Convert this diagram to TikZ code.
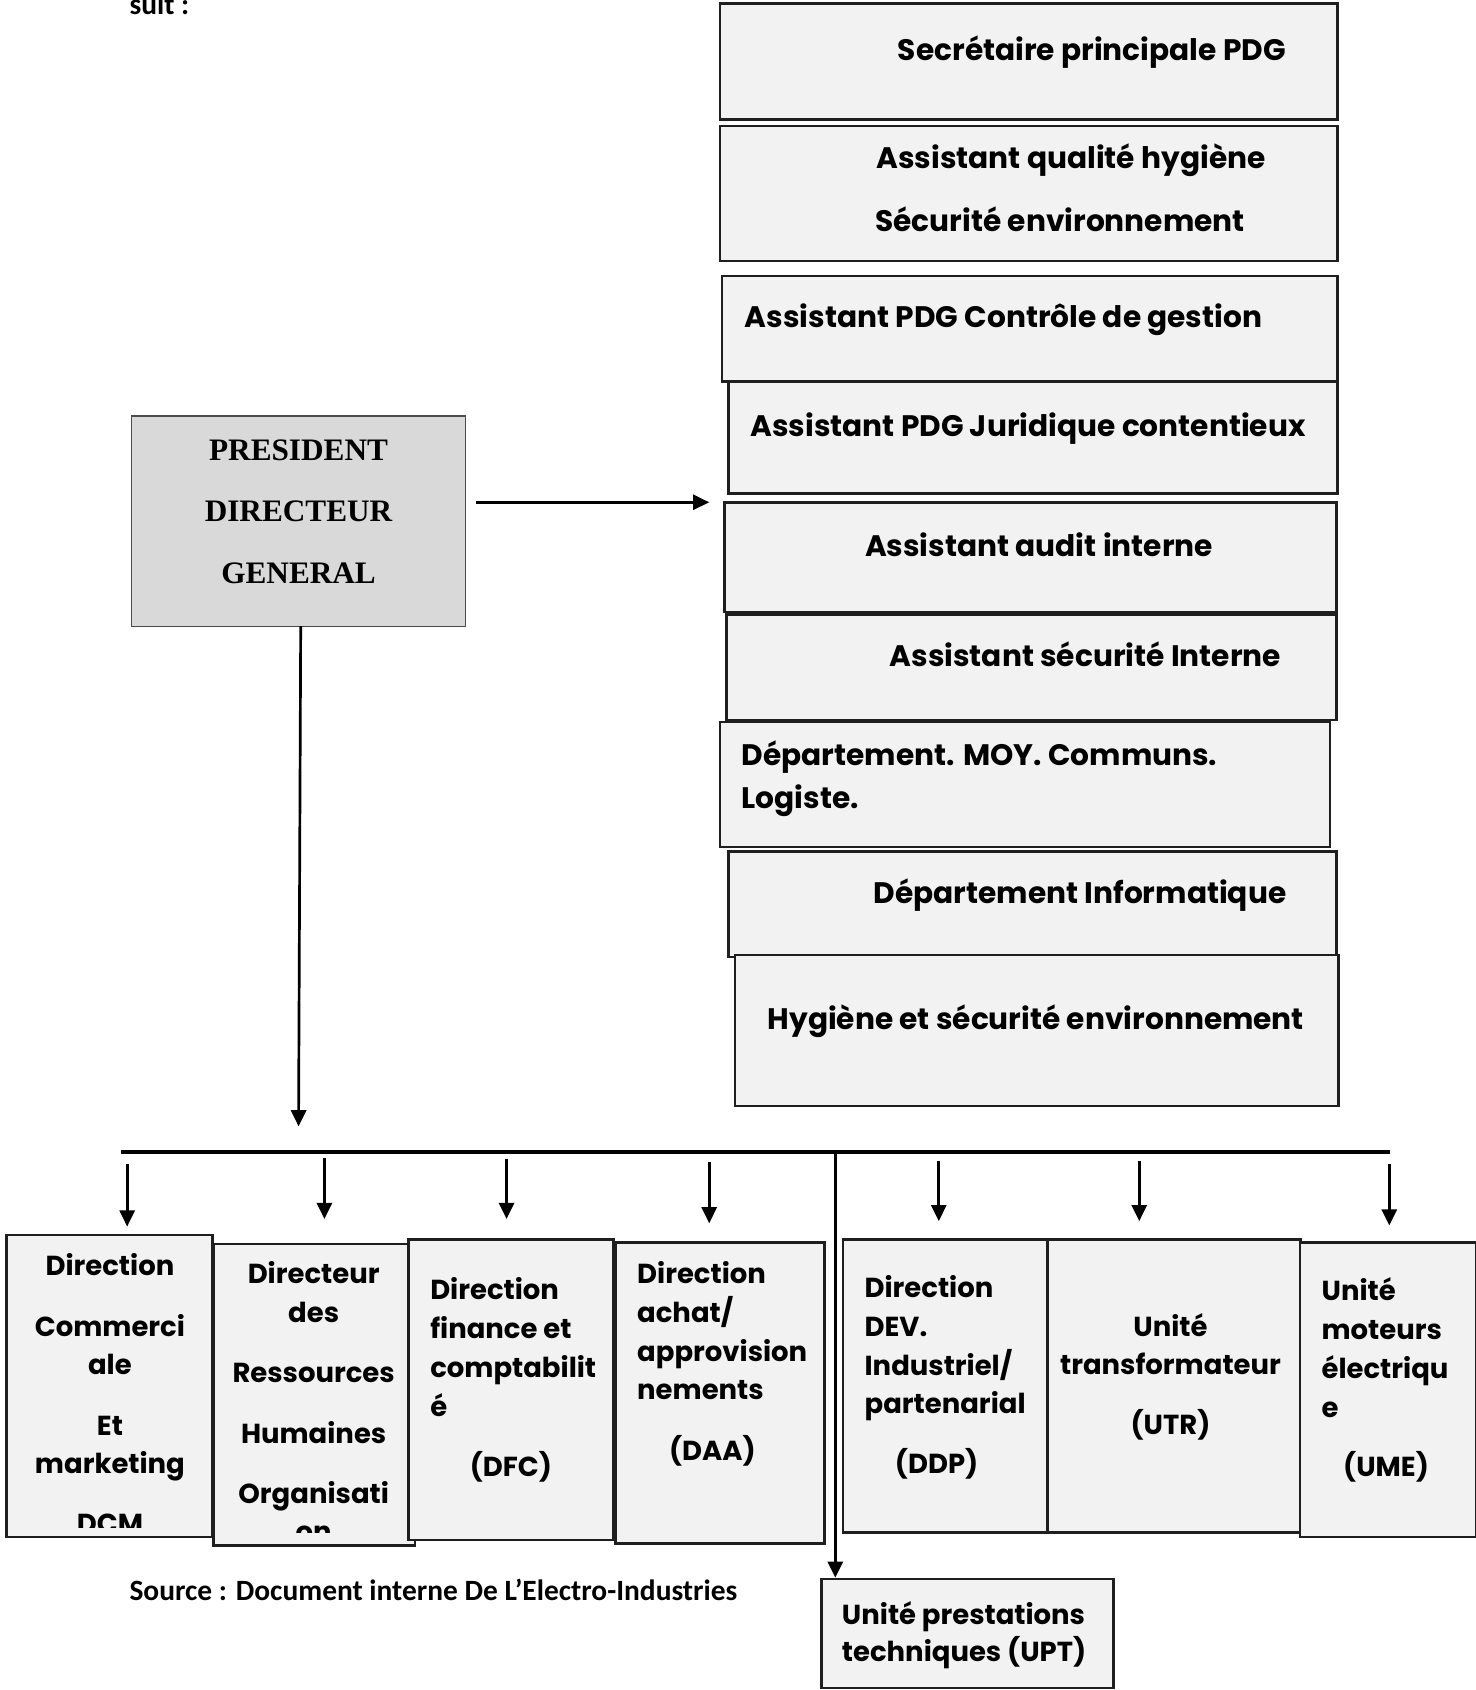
\documentclass[tikz,border=0pt]{standalone}
\usepackage{fontspec}
\setmainfont{Poppins}
\newfontfamily\pdgfont{Liberation Serif}
\newfontfamily\notefont{Carlito}[BoldFont={Carlito Bold}]
\usetikzlibrary{arrows.meta,fit}

\definecolor{boxgray}{HTML}{F2F2F2}
\definecolor{pdggray}{HTML}{D9D9D9}

\tikzset{
  unitbox/.style={draw=black!88, line width=2.4pt, fill=boxgray, inner sep=0pt},
  pdgbox/.style={draw=black!70, line width=1.2pt, fill=pdggray, inner sep=0pt},
  toptxt/.style={font=\fontsize{27.5}{34}\selectfont\bfseries, inner sep=0pt},
  bottxt/.style={font=\fontsize{25.5}{30}\selectfont\bfseries, inner sep=0pt},
  pdgtxt/.style={font=\pdgfont\fontsize{29}{34}\selectfont\bfseries, inner sep=0pt},
  notetxt/.style={font=\notefont\fontsize{27.3}{32}\selectfont\bfseries, inner sep=0pt},
  arr/.style={line width=2.5pt, -{Triangle[length=15pt,width=14pt]}},
}

% box from its top-left and bottom-right corners
\newcommand\orgbox[6][unitbox]{\node[#1, fit={(#3,#4) (#5,#6)}] (#2) {};}
% one line of text placed on its baseline
\newcommand\orgline[6][base]{\node[#2, anchor=#1] (#3) at (#4,#5) {#6};}

\begin{document}
\begin{tikzpicture}[x=1pt,y=-1pt]
\useasboundingbox (0,0) rectangle (1369,1568);

% heading fragment
\orgline[base west]{notetxt}{suit}{120}{13}{suit :}

% staff boxes attached to the PDG
\orgbox{sec}{668}{3}{1241}{111}
\orgbox{aqh}{668}{117}{1241}{242}
\orgbox{acg}{670}{256}{1241}{354}
\orgbox{ajc}{676}{354}{1241}{458}
\orgbox{aai}{672}{466}{1240}{568}
\orgbox{asi}{674}{570}{1240}{668}
\orgbox{dmc}{668}{670}{1234}{786}
\orgbox{din}{676}{790}{1240}{888}
\orgbox{hse}{682}{886}{1242}{1026}

\orgline{toptxt}{t-sec}{1013}{56}{Secrétaire principale PDG}
\orgline[base west]{toptxt}{t-aqh1}{813}{156}{Assistant qualité hygiène}
\orgline[base west]{toptxt}{t-aqh2}{812}{215}{Sécurité environnement}
\orgline[base west]{toptxt}{t-acg}{691}{304}{Assistant PDG Contrôle de gestion}
\orgline[base west]{toptxt}{t-ajc}{696}{405}{Assistant PDG Juridique contentieux}
\orgline{toptxt}{t-aai}{964}{516}{Assistant audit interne}
\orgline{toptxt}{t-asi}{1007}{618}{Assistant sécurité Interne}
\orgline[base west]{toptxt}{t-dmc1}{688}{710}{Département. MOY. Communs.}
\orgline[base west]{toptxt}{t-dmc2}{688}{750}{Logiste.}
\orgline{toptxt}{t-din}{1002}{838}{Département Informatique}
\orgline{toptxt}{t-hse}{961}{955}{Hygiène et sécurité environnement}

% president
\orgbox[pdgbox]{pdg}{122}{386}{432}{581}
\orgline{pdgtxt}{t-pdg1}{277}{427}{PRESIDENT}
\orgline{pdgtxt}{t-pdg2}{277}{484}{DIRECTEUR}
\orgline{pdgtxt}{t-pdg3}{277}{541}{GENERAL}

\coordinate (pdgR) at (442,466);
\coordinate (staffL) at (658,466);
\draw[arr] (pdgR) -- (staffL);

\coordinate (pdgOut) at (279,581);
\coordinate (busIn) at (277,1045);
\draw[arr] (pdgOut) -- (busIn);

% distribution bar
\coordinate (busL) at (112,1069);
\coordinate (busR) at (1290,1069);
\coordinate (busM) at (775,1069);
\draw[line width=3.5pt] (busL) -- (busR);

% operational directions
\orgbox{dcm}{6}{1146}{197}{1426}
\orgbox{drh}{198}{1154}{385}{1434}
\orgbox{dfc}{379}{1150}{569}{1429}
\orgbox{daa}{571}{1153}{765}{1432}
\orgbox{ddp}{782}{1150}{972}{1422}
\orgbox{utr}{972}{1150}{1207}{1422}
\orgbox{ume}{1206}{1153}{1370}{1426}
\orgbox{upt}{762}{1465}{1033}{1566}

\draw[line width=3pt, -{Triangle[length=15pt,width=14pt]}] (busM) -- (busM |- upt.north);

\foreach \n/\x/\ys/\ye in {a/118/1080/1138, b/301/1074/1131, c/470/1075/1131,
    d/658/1078/1135, e/871/1077/1133, f/1057/1077/1133, g/1289/1080/1137}{
  \coordinate (s\n) at (\x,\ys);
  \coordinate (e\n) at (\x,\ye);
  \draw[arr] (s\n) -- (e\n);
}

% texts cut off by their text frames
\begin{scope}
\clip (6,1150) rectangle (197,1417);
\orgline{bottxt}{t-dcm1}{102}{1183}{Direction}
\orgline{bottxt}{t-dcm2}{102}{1240}{Commerci}
\orgline{bottxt}{t-dcm3}{102}{1275}{ale}
\orgline{bottxt}{t-dcm4}{102}{1332}{Et}
\orgline{bottxt}{t-dcm5}{102}{1367}{marketing}
\orgline{bottxt}{t-dcm6}{102}{1423}{DCM}
\end{scope}
\begin{scope}
\clip (198,1158) rectangle (385,1422);
\orgline{bottxt}{t-drh1}{291}{1191}{Directeur}
\orgline{bottxt}{t-drh2}{291}{1227}{des}
\orgline{bottxt}{t-drh3}{291}{1283}{Ressources}
\orgline{bottxt}{t-drh4}{291}{1339}{Humaines}
\orgline{bottxt}{t-drh5}{291}{1395}{Organisati}
\orgline{bottxt}{t-drh6}{291}{1430}{on}
\end{scope}

\orgline[base west]{bottxt}{t-dfc1}{399}{1206}{Direction}
\orgline[base west]{bottxt}{t-dfc2}{399}{1242}{finance et}
\orgline[base west]{bottxt}{t-dfc3}{399}{1278}{comptabilit}
\orgline[base west]{bottxt}{t-dfc4}{399}{1314}{é}
\orgline{bottxt}{t-dfc5}{474}{1370}{(DFC)}

\orgline[base west]{bottxt}{t-daa1}{591}{1191}{Direction}
\orgline[base west]{bottxt}{t-daa2}{591}{1227}{achat/}
\orgline[base west]{bottxt}{t-daa3}{591}{1263}{approvision}
\orgline[base west]{bottxt}{t-daa4}{591}{1298}{nements}
\orgline{bottxt}{t-daa5}{661}{1355}{(DAA)}

\orgline[base west]{bottxt}{t-ddp1}{802}{1204}{Direction}
\orgline[base west]{bottxt}{t-ddp2}{802}{1240}{DEV.}
\orgline[base west]{bottxt}{t-ddp3}{802}{1276}{Industriel/}
\orgline[base west]{bottxt}{t-ddp4}{802}{1311}{partenarial}
\orgline{bottxt}{t-ddp5}{869}{1367}{(DDP)}

\orgline{bottxt}{t-utr1}{1086}{1240}{Unité}
\orgline{bottxt}{t-utr2}{1086}{1275}{transformateur}
\orgline{bottxt}{t-utr3}{1086}{1331}{(UTR)}

\orgline[base west]{bottxt}{t-ume1}{1226}{1207}{Unité}
\orgline[base west]{bottxt}{t-ume2}{1226}{1243}{moteurs}
\orgline[base west]{bottxt}{t-ume3}{1226}{1279}{électriqu}
\orgline[base west]{bottxt}{t-ume4}{1226}{1315}{e}
\orgline{bottxt}{t-ume5}{1286}{1370}{(UME)}

\orgline[base west]{bottxt}{t-upt1}{781}{1507}{Unité prestations}
\orgline[base west]{bottxt}{t-upt2}{781}{1542}{techniques (UPT)}

% source note
\orgline[base west]{notetxt}{src}{120}{1485}{Source : Document interne De L’Electro-Industries}
\end{tikzpicture}
\end{document}
